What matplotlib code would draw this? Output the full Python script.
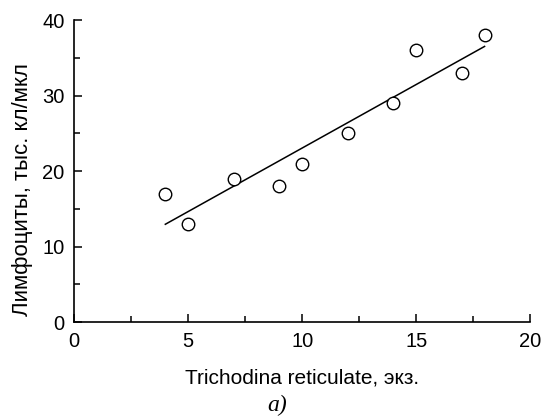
import numpy as np
import matplotlib.pyplot as plt

plt.rcParams['font.family'] = ['Liberation Sans', 'DejaVu Sans']

# data
parasites = [4, 5, 7, 9, 10, 12, 14, 15, 17, 18]
lymphocytes = [17, 13, 19, 18, 21, 25, 29, 36, 33, 38]
xticks = [0, 5, 10, 15, 20]
yticks = [0, 10, 20, 30, 40]

fig = plt.figure(figsize=(5.41, 4.19), dpi=100)
ax = fig.add_axes([0.137, 0.2315, 0.843, 0.7205])

# linear fit
k, b = np.polyfit(parasites, lymphocytes, 1)
xs = np.array([min(parasites), max(parasites)])
ax.plot(xs, k * xs + b, color='black', lw=1.1)

ax.plot(parasites, lymphocytes, 'o', mfc='white', mec='black', ms=9, mew=1.0)

ax.set_xlim(0, 20)
ax.set_ylim(0, 40)
ax.set_xticks(xticks)
ax.set_yticks(yticks)
ax.set_xticks([2.5, 7.5, 12.5, 17.5], minor=True)
ax.set_yticks([5, 15, 25, 35], minor=True)
ax.tick_params(direction='in', length=6, width=1.1, labelsize=14.5, pad=7)
ax.tick_params(which='minor', direction='in', length=4, width=1.1)
ax.spines['top'].set_visible(False)
ax.spines['right'].set_visible(False)
for s in ('left', 'bottom'):
    ax.spines[s].set_linewidth(1.2)

ax.set_xlabel('Trichodina reticulate, экз.', fontsize=15, labelpad=13)
ax.set_ylabel('Лимфоциты, тыс. кл/мкл', fontsize=16)
ax.yaxis.set_label_coords(-0.09, 0.44)

fig.text(0.512, 0.018, 'а)', fontsize=17, family=['Liberation Serif', 'DejaVu Serif'],
         style='italic', ha='center')

plt.savefig('out.png', dpi=100)
